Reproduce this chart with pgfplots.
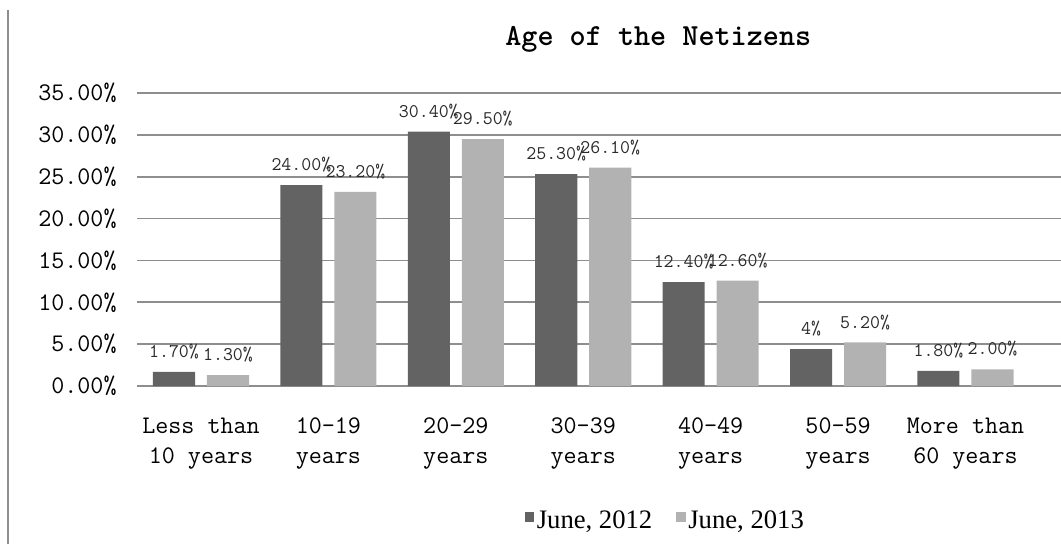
\documentclass[border=0pt]{standalone}
\usepackage{fontspec}
\setmainfont{Liberation Serif}
\usepackage{pgfplots}
\pgfplotsset{compat=1.18}
\usepackage{pgfplotstable}
\definecolor{darkbar}{HTML}{636363}
\definecolor{lightbar}{HTML}{B2B2B2}
\definecolor{gridc}{HTML}{8E8E8E}
\definecolor{labc}{HTML}{2A2A2A}

\pgfplotstableread{
x y lab
0 1.7 1.70
1 24.0 24.00
2 30.4 30.40
3 25.3 25.30
4 12.4 12.40
5 4.4 4
6 1.8 1.80
}\dataA
\pgfplotstableread{
x y lab
0 1.3 1.30
1 23.2 23.20
2 29.5 29.50
3 26.1 26.10
4 12.6 12.60
5 5.2 5.20
6 2.0 2.00
}\dataB

\begin{document}
\begin{tikzpicture}[x=0.75pt,y=0.75pt]
\useasboundingbox (0,0) rectangle (1061,544);
\draw[gridc, line width=1.1pt] (8,0) -- (8,534);
\begin{axis}[
  at={(102.975pt,118.5pt)}, anchor=south west,
  scale only axis, width=692.8pt, height=219.75pt,
  xmin=-0.5, xmax=6.75, ymin=0, ymax=35,
  ybar, bar width=0.33,
  axis line style={draw=none},
  xtick={0,...,6},
  xticklabels={{Less than\\10 years},{10-19\\years},{20-29\\years},{30-39\\years},{40-49\\years},{50-59\\years},{More than\\60 years}},
  ytick={0,5,...,35},
  yticklabels={0.00\%,5.00\%,10.00\%,15.00\%,20.00\%,25.00\%,30.00\%,35.00\%},
  major tick length=0pt,
  ymajorgrids, grid style={gridc, line width=1.2pt},
  yticklabel style={font=\ttfamily\fontsize{19}{22}\selectfont, anchor=east, xshift=-12pt},
  xticklabel style={font=\ttfamily\fontsize{19}{22.5}\selectfont, align=center, anchor=north, yshift=-20.5pt},
  title={Age of the Netizens},
  title style={at={(0.564,1.1365)}, anchor=base, yshift=0pt, font=\ttfamily\bfseries\fontsize{23}{25}\selectfont},
  point meta=explicit symbolic,
  nodes near coords={\pgfplotspointmeta\%},
  every node near coord/.append style={font=\ttfamily\fontsize{14.5}{16}\selectfont, text=labc, anchor=south, yshift=6pt, inner xsep=0pt},
  legend style={at={(0.572,-0.461)}, anchor=center, draw=none, legend columns=2,
    font=\fontsize{20}{22}\selectfont,
    /tikz/every even column/.append style={column sep=16pt}},
  legend image code/.code={\path[#1] (0pt,-0.5pt) rectangle (7pt,6.5pt);},
]
\addplot[fill=darkbar, draw=none, bar shift=-0.212] table[x=x, y=y, meta=lab] {\dataA};
\addplot[fill=lightbar, draw=none, bar shift=0.212] table[x=x, y=y, meta=lab] {\dataB};
\legend{{June, 2012}, {June, 2013}}
\end{axis}
\end{tikzpicture}
\end{document}
